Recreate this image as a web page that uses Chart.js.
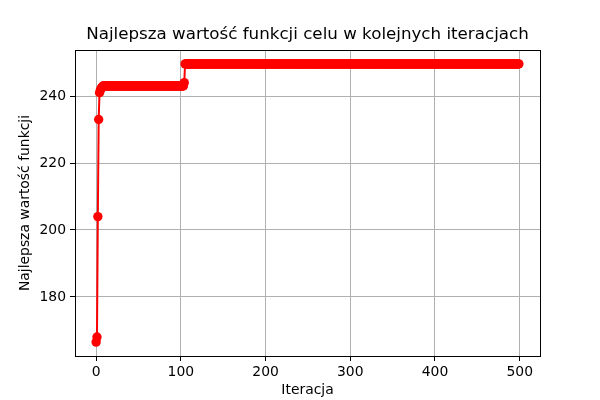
<!DOCTYPE html>
<html>
<head>
<meta charset="utf-8">
<script src="https://cdn.jsdelivr.net/npm/chart.js@4"></script>
<style>
  html, body { margin: 0; padding: 0; background: #fff; }
  #wrap { width: 600px; height: 400px; }
</style>
</head>
<body>
<div id="wrap"><canvas id="wykres" width="600" height="400"></canvas></div>
<script>
// Najlepsza wartość znaleziona do danej iteracji (zmienia się tylko w tych punktach)
const liczbaIteracji = 500;
const iteracjeZmian = [0, 1, 2, 3, 4, 5, 6, 7, 8, 104, 105];
const wartosciZmian = [166.5, 168, 204, 233, 241, 241.8, 242.3, 242.7, 243, 244, 249.6];
const ticksX = [0, 100, 200, 300, 400, 500];
const ticksY = [180, 200, 220, 240];

// rozwinięcie do pełnej serii (wartość trzymana do kolejnej zmiany)
const punkty = [];
let k = 0;
for (let i = 0; i < liczbaIteracji; i++) {
  if (k + 1 < iteracjeZmian.length && i >= iteracjeZmian[k + 1]) k++;
  punkty.push({ x: i, y: wartosciZmian[k] });
}

const minY = Math.min(...wartosciZmian), maxY = Math.max(...wartosciZmian);
const marginesY = (maxY - minY) * 0.05;
const marginesX = (liczbaIteracji - 1) * 0.05;

Chart.defaults.color = '#000';
Chart.defaults.font.family = '"DejaVu Sans", sans-serif';

// ramka dookoła obszaru wykresu (jak w matplotlib)
const ramka = {
  id: 'ramka',
  afterDraw(chart) {
    const { ctx, chartArea: a } = chart;
    ctx.save();
    ctx.strokeStyle = '#000';
    ctx.lineWidth = 1;
    ctx.strokeRect(Math.round(a.left) + 0.5, Math.round(a.top) + 0.5,
      Math.round(a.right - a.left), Math.round(a.bottom - a.top));
    ctx.restore();
  }
};

new Chart(document.getElementById('wykres'), {
  type: 'line',
  data: {
    datasets: [{
      data: punkty,
      borderColor: '#ff0000',
      backgroundColor: '#ff0000',
      borderWidth: 2,
      pointRadius: 4.7,
      pointHoverRadius: 4.7,
      pointBorderWidth: 0,
      tension: 0,
      fill: false
    }]
  },
  options: {
    responsive: false,
    animation: false,
    layout: { padding: { left: 0, right: 60, top: 0, bottom: 0 } },
    plugins: {
      legend: { display: false },
      tooltip: { enabled: false },
      title: {
        display: true,
        text: 'Najlepsza wartość funkcji celu w kolejnych iteracjach',
        fullSize: false,
        font: { size: 16.7, weight: 'normal' },
        padding: { top: 25, bottom: 5 }
      }
    },
    scales: {
      x: {
        type: 'linear',
        min: -marginesX,
        max: (liczbaIteracji - 1) + marginesX,
        afterBuildTicks: s => { s.ticks = ticksX.map(v => ({ value: v })); },
        afterFit: s => { s.height = 44; },
        grid: { color: '#b0b0b0', lineWidth: 1, tickColor: '#000', tickLength: 5 },
        border: { display: false },
        ticks: { font: { size: 13.9 }, padding: 3, maxRotation: 0 },
        title: { display: true, text: 'Iteracja', font: { size: 13.9 }, padding: { top: 0, bottom: 1 } }
      },
      y: {
        type: 'linear',
        min: minY - marginesY,
        max: maxY + marginesY,
        afterBuildTicks: s => { s.ticks = ticksY.map(v => ({ value: v })); },
        afterFit: s => { s.width = 75; },
        grid: { color: '#b0b0b0', lineWidth: 1, tickColor: '#000', tickLength: 5 },
        border: { display: false },
        ticks: { font: { size: 13.9 }, padding: 4 },
        title: { display: true, text: 'Najlepsza wartość funkcji', font: { size: 13.9 }, padding: { top: 17, bottom: 0 } }
      }
    }
  },
  plugins: [ramka]
});
</script>
</body>
</html>
